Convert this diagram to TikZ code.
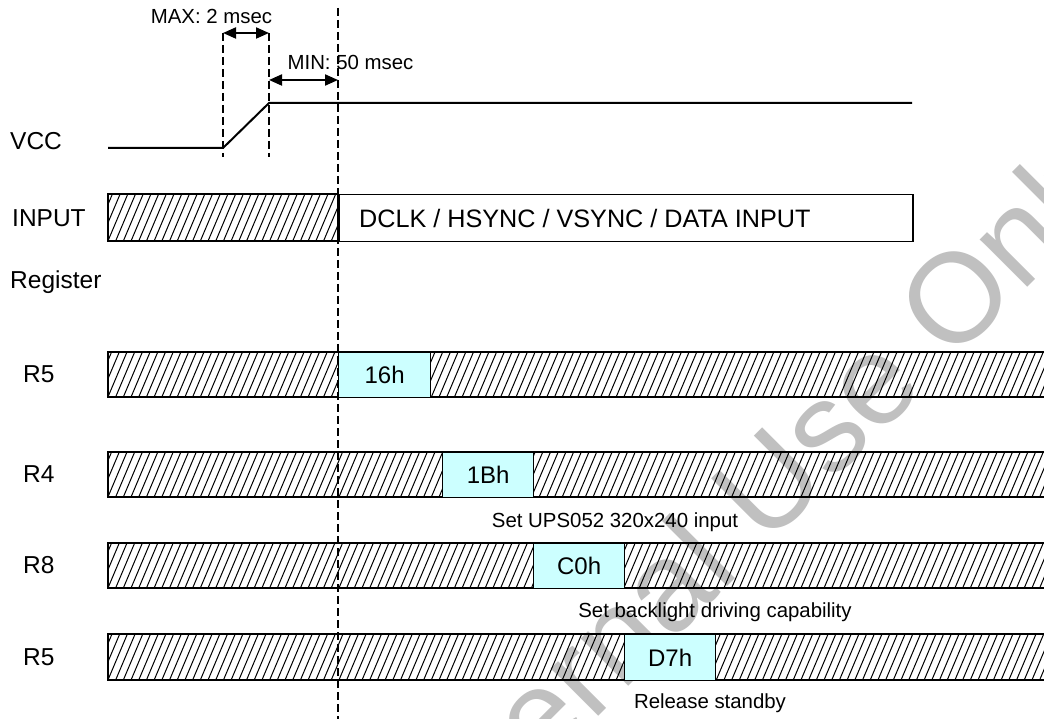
\documentclass[tikz,border=0pt]{standalone}
\usepackage{fontspec}
\setmainfont{Liberation Sans}
\usetikzlibrary{arrows.meta}
\definecolor{valfill}{RGB}{204,255,255}
\definecolor{wmgray}{RGB}{192,192,192}
% hatched band: #1 left, #2 right, #3 top, #4 bottom
\newcommand\hatchband[4]{%
  \begin{scope}
    \clip (#1,#3) rectangle (#2,#4);
    \foreach \i in {0,...,125}{
      \draw[hatchline] ({#1-24+\i*7.7},#4+2) -- ++(22,-52);
    }
  \end{scope}}
\begin{document}
\begin{tikzpicture}[x=1pt,y=-1pt,
  lbl/.style={font=\fontsize{24.5}{28}\selectfont, inner sep=0, anchor=west},
  note/.style={font=\fontsize{20.4}{24}\selectfont, inner sep=0},
  valbox/.style={draw, line width=1.3, fill=valfill, minimum width=91, minimum height=45,
                 inner sep=0, anchor=north west, font=\fontsize{24}{28}\selectfont},
  hatchline/.style={line width=1},
  barline/.style={line width=1.5},
  sig/.style={line width=2},
  guide/.style={line width=2, dash pattern=on 8pt off 4pt},
  dim/.style={line width=2, {Triangle[length=13pt,width=11pt]}-{Triangle[length=13pt,width=11pt]}}
]
\clip (0,0) rectangle (1044,719);
\fill[white] (0,0) rectangle (1044,719);
% watermark
\node[font=\fontsize{127}{150}\selectfont, text=wmgray, rotate=45, inner sep=0] (wm) at (766,502) {Internal Use Only};

% VCC waveform
\coordinate (v0) at (108,148);
\coordinate (v1) at (223,148);
\coordinate (v2) at (269,103);
\coordinate (v3) at (912,103);
\draw[sig] (v0) -- (v1) -- (v2) -- (v3);

% short guides
\coordinate (ga0) at (223,33); \coordinate (ga1) at (223,157);
\coordinate (gb0) at (269,33); \coordinate (gb1) at (269,157);
\coordinate (gc0) at (338,8);  \coordinate (gc1) at (338,719);
\draw[guide] (ga0) -- (ga1);
\draw[guide] (gb0) -- (gb1);

% dimension arrows
\coordinate (m0) at (223,33); \coordinate (m1) at (269,33);
\coordinate (n0) at (269,80); \coordinate (n1) at (338,80);
\draw[dim] (m0) -- (m1);
\draw[dim] (n0) -- (n1);
\node[note] (tmax) at (211.5,16) {MAX: 2 msec};
\node[note] (tmin) at (350.5,62) {MIN: 50 msec};

% INPUT band
\hatchband{108}{338}{194}{241}
\draw[barline] (108,194) rectangle (338,241);
\node[draw, line width=1.5, minimum width=574, minimum height=47, anchor=north west, inner sep=0] (din) at (338,194) {};
\node[lbl, font=\fontsize{25.2}{28}\selectfont] (dtext) at (359,218) {DCLK / HSYNC / VSYNC / DATA INPUT};

% register bands
\hatchband{108}{1044}{352}{397}
\draw[barline] (108,352) rectangle (1050,397);
\hatchband{108}{1044}{452}{497}
\draw[barline] (108,452) rectangle (1050,497);
\hatchband{108}{1044}{543}{588}
\draw[barline] (108,543) rectangle (1050,588);
\hatchband{108}{1044}{634}{680}
\draw[barline] (108,634) rectangle (1050,680);

% main guide
\draw[guide] (gc0) -- (gc1);

% value boxes
\node[valbox, minimum width=92] (b16) at (338,352) {16h};
\node[valbox] (b1b) at (442,452) {1Bh};
\node[valbox] (bc0) at (533,543) {C0h};
\node[valbox, minimum height=46] (bd7) at (624,634) {D7h};

% notes
\node[note] (n1b) at (615,522) {Set UPS052 320x240 input};
\node[note] (nc0) at (715,612) {Set backlight driving capability};
\node[note] (nd7) at (710,703) {Release standby};

% row labels
\node[lbl] (lvcc) at (10,141) {VCC};
\node[lbl] (lin) at (12,218) {INPUT};
\node[lbl] (lreg) at (10,282) {Register};
\node[lbl] (lr5a) at (23,374) {R5};
\node[lbl] (lr4) at (23,474) {R4};
\node[lbl] (lr8) at (23,565) {R8};
\node[lbl] (lr5b) at (23,657) {R5};
\end{tikzpicture}
\end{document}
